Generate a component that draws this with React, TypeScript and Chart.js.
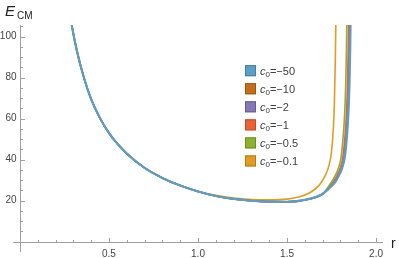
import React, { useEffect, useRef } from 'react';
import { Chart, registerables } from 'chart.js';

Chart.register(...registerables);

// ---- data ----
const seriesLabels = ['\u221250', '\u221210', '\u22122', '\u22121', '\u22120.5', '\u22120.1'];
const seriesColors = ['#5D9EC7', '#C56E1A', '#8778B3', '#EB6235', '#8FB032', '#E19C24'];
const seriesBorders = ['#3F7FA8', '#9E5512', '#685A94', '#C84A20', '#6F8C20', '#B87A10'];
const seriesWidths = [2.2, 1.6, 1.6, 1.6, 1.6, 1.6];

// common left branch (all c0 curves coincide here)
const rMain = [0.26, 0.29, 0.32, 0.36, 0.4, 0.45, 0.5, 0.55, 0.6, 0.7, 0.8, 0.9, 1.0, 1.1, 1.2, 1.3, 1.4, 1.5, 1.6, 1.7];
const eMain = [122, 106, 93, 79.8, 69.5, 60.2, 53, 47.5, 43, 36, 31.1, 27.4, 24.5, 22.3, 20.9, 20.0, 19.55, 19.5, 20.4, 23.3];

// right branches
const rTailM50 = [1.74, 1.77, 1.79, 1.81, 1.825, 1.837, 1.845, 1.851, 1.855, 1.858, 1.861];
const eTailM50 = [26.3, 29.0, 32.0, 36.0, 41.5, 52, 63, 78, 95, 115, 140];
const rTailM10 = [1.74, 1.768, 1.788, 1.808, 1.823, 1.835, 1.843, 1.849, 1.853, 1.856, 1.859];
const eTailM10 = [26.4, 29.0, 32.0, 36.0, 41.5, 52, 63, 78, 95, 115, 140];
const rTailM2 = [1.74, 1.765, 1.785, 1.805, 1.82, 1.832, 1.84, 1.846, 1.85, 1.853, 1.856];
const eTailM2 = [26.5, 29.0, 32.0, 36.0, 41.5, 52, 63, 78, 95, 115, 140];
const rTailM1 = [1.74, 1.759, 1.779, 1.799, 1.814, 1.826, 1.834, 1.84, 1.844, 1.847, 1.85];
const eTailM1 = [26.8, 29.0, 32.0, 36.0, 41.5, 52, 63, 78, 95, 115, 140];
const rTailM05 = [1.73, 1.749, 1.769, 1.789, 1.804, 1.816, 1.824, 1.83, 1.834, 1.837, 1.84];
const eTailM05 = [26.6, 29.0, 32.0, 36.0, 41.5, 52, 63, 78, 95, 115, 140];

// c0 = -0.1 departs earlier
const rM01 = [0.26, 0.29, 0.32, 0.36, 0.4, 0.45, 0.5, 0.55, 0.6, 0.7, 0.8, 0.9, 1.0, 1.1, 1.2, 1.3, 1.4, 1.5, 1.57, 1.63, 1.68, 1.71, 1.735, 1.75, 1.76, 1.766, 1.771, 1.774, 1.777];
const eM01 = [122, 106, 93, 79.8, 69.5, 60.2, 53, 47.5, 43, 36, 31.1, 27.4, 24.6, 22.6, 21.3, 20.6, 20.4, 20.8, 21.9, 24.0, 27.5, 31.5, 37, 44, 55, 68, 88, 106, 140];

// axes / ticks
const xMin = -0.039;
const xMax = 2.039;
const yMin = -5.0;
const yMax = 105.7;
const xMajorTicks = [0.5, 1.0, 1.5, 2.0];
const xTickLabels = ['0.5', '1.0', '1.5', '2.0'];
const yMajorTicks = [20, 40, 60, 80, 100];
const yTickLabels = ['20', '40', '60', '80', '100'];

function pts(r: number[], e: number[]) {
  return r.map((v, i) => ({ x: v, y: e[i] }));
}

const seriesPoints = [
  pts([...rMain, ...rTailM50], [...eMain, ...eTailM50]),
  pts([...rMain, ...rTailM10], [...eMain, ...eTailM10]),
  pts([...rMain, ...rTailM2], [...eMain, ...eTailM2]),
  pts([...rMain, ...rTailM1], [...eMain, ...eTailM1]),
  pts([...rMain, ...rTailM05], [...eMain, ...eTailM05]),
  pts(rM01, eM01),
];

const FONT = '"Liberation Sans", Arial, sans-serif';

const axesPlugin = {
  id: 'mmaAxes',
  beforeDatasetsDraw(chart: any) {
    const { ctx, chartArea: a, scales } = chart;
    const xs = scales.x, ys = scales.y;
    const x0 = Math.round(xs.getPixelForValue(0)) + 0.5;
    const y0 = Math.round(ys.getPixelForValue(0)) + 0.5;
    ctx.save();
    ctx.strokeStyle = '#a0a0a0';
    ctx.lineWidth = 1;
    ctx.beginPath();
    ctx.moveTo(a.left, y0);
    ctx.lineTo(a.right, y0);
    ctx.moveTo(x0, a.top);
    ctx.lineTo(x0, a.bottom);
    // x ticks (upwards)
    for (let k = 1; k <= 20; k++) {
      const v = k / 10;
      const px = Math.round(xs.getPixelForValue(v)) + 0.5;
      const major = k % 5 === 0;
      ctx.moveTo(px, y0);
      ctx.lineTo(px, y0 - (major ? 4.5 : 2.5));
    }
    // y ticks (to the right)
    for (let k = 1; k <= 21; k++) {
      const v = k * 5;
      const py = Math.round(ys.getPixelForValue(v)) + 0.5;
      const major = k % 4 === 0;
      ctx.moveTo(x0, py);
      ctx.lineTo(x0 + (major ? 4.5 : 2.5), py);
    }
    ctx.stroke();

    ctx.fillStyle = '#444444';
    ctx.font = `10px ${FONT}`;
    ctx.textAlign = 'center';
    ctx.textBaseline = 'alphabetic';
    xMajorTicks.forEach((v, i) => {
      ctx.fillText(xTickLabels[i], xs.getPixelForValue(v), 256.5);
    });
    ctx.textAlign = 'right';
    ctx.textBaseline = 'middle';
    yMajorTicks.forEach((v, i) => {
      ctx.fillText(yTickLabels[i], x0 - 4, ys.getPixelForValue(v));
    });

    // axis labels
    ctx.fillStyle = '#222222';
    ctx.textAlign = 'left';
    ctx.textBaseline = 'alphabetic';
    ctx.font = `italic 15px ${FONT}`;
    ctx.fillText('E', 5, 16);
    ctx.font = `10px ${FONT}`;
    ctx.fillText('CM', 17, 18.5);
    ctx.font = `14px ${FONT}`;
    ctx.fillText('r', 391, 248);
    ctx.restore();
  },
  afterDraw(chart: any) {
    const { ctx } = chart;
    ctx.save();
    seriesLabels.forEach((lab, i) => {
      const cy = 70.7 + i * 18.05;
      ctx.fillStyle = seriesColors[i];
      ctx.fillRect(245, cy - 5.5, 11, 11);
      ctx.strokeStyle = seriesBorders[i];
      ctx.lineWidth = 1;
      ctx.strokeRect(245.5, cy - 5, 10, 10);
      ctx.fillStyle = '#404040';
      ctx.textAlign = 'left';
      ctx.textBaseline = 'alphabetic';
      let tx = 260;
      ctx.font = `italic 11px ${FONT}`;
      ctx.fillText('c', tx, cy + 4);
      tx += ctx.measureText('c').width;
      ctx.font = `8px ${FONT}`;
      ctx.fillText('0', tx, cy + 6);
      tx += ctx.measureText('0').width;
      ctx.font = `11px ${FONT}`;
      ctx.fillText('=' + lab, tx, cy + 4);
    });
    ctx.restore();
  },
};

export default function App() {
  const ref = useRef<HTMLCanvasElement | null>(null);
  useEffect(() => {
    if (!ref.current) return;
    const chart = new Chart(ref.current, {
      type: 'scatter',
      data: {
        datasets: seriesPoints.map((p, i) => ({
          label: 'c0=' + seriesLabels[i],
          data: p,
          showLine: true,
          borderColor: seriesColors[i],
          backgroundColor: seriesColors[i],
          borderWidth: seriesWidths[i],
          pointRadius: 0,
          cubicInterpolationMode: 'monotone' as const,
          fill: false,
        })),
      },
      options: {
        animation: false,
        responsive: true,
        maintainAspectRatio: false,
        devicePixelRatio: 1,
        layout: { padding: { left: 13, right: 16, top: 25, bottom: 6 } },
        plugins: { legend: { display: false }, tooltip: { enabled: false } },
        events: [],
        scales: {
          x: { type: 'linear', min: xMin, max: xMax, display: false },
          y: { type: 'linear', min: yMin, max: yMax, display: false },
        },
      },
      plugins: [axesPlugin],
    });
    return () => chart.destroy();
  }, []);
  return (
    <div style={{ position: 'absolute', left: 0, top: 0, width: 399, height: 258, background: '#fff' }}>
      <canvas ref={ref} />
    </div>
  );
}
